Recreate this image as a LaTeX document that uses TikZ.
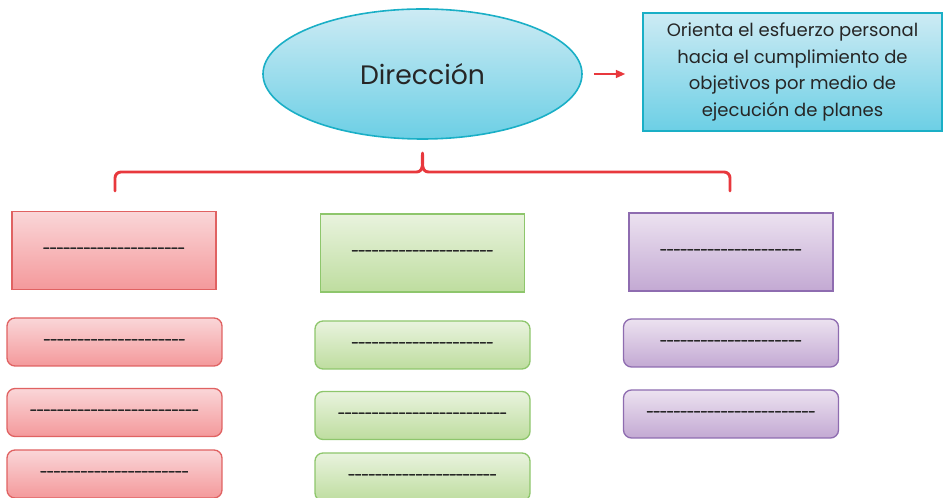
\documentclass[tikz,border=0pt]{standalone}
\usepackage{fontspec}
\setmainfont{Poppins}
\newfontfamily\dashfont[FakeBold=2]{Poppins}
\usetikzlibrary{shapes.geometric,arrows.meta,shadings}
\definecolor{txt}{HTML}{262626}
\definecolor{cyT}{HTML}{CDEBF4}
\definecolor{cyB}{HTML}{6CCFE5}
\definecolor{cyD}{HTML}{1AAFC6}
\definecolor{rdT}{HTML}{FAD6D8}
\definecolor{rdB}{HTML}{F4999B}
\definecolor{rdD}{HTML}{E06262}
\definecolor{gnT}{HTML}{E9F3DE}
\definecolor{gnB}{HTML}{BEDD9F}
\definecolor{gnD}{HTML}{8EC66C}
\definecolor{puT}{HTML}{ECE2F0}
\definecolor{puB}{HTML}{C3A9D3}
\definecolor{puD}{HTML}{8E6CB0}
\definecolor{brc}{HTML}{E8383D}
\newcommand\dashrow[1]{\foreach\i in {1,...,#1}{\makebox[5.06pt]{-}}}
\begin{document}
\begin{tikzpicture}[x=0.75pt,y=-0.75pt,
  base/.style={inner sep=0pt,text=txt,font=\dashfont\fontsize{10.3}{14}\selectfont,line width=1pt},
  head/.style={base,rectangle,minimum width=204*0.75pt,minimum height=78*0.75pt},
  item/.style={base,rectangle,rounded corners=6pt,minimum width=215*0.75pt,minimum height=48*0.75pt},
  red/.style={draw=rdD,top color=rdT,bottom color=rdB},
  green/.style={draw=gnD,top color=gnT,bottom color=gnB},
  purple/.style={draw=puD,top color=puT,bottom color=puB},
  bracestyle/.style={draw=brc,line width=2.2pt,line cap=round,line join=round}]
\useasboundingbox (0,0) rectangle (943,498);
% title ellipse
\node[ellipse,draw=cyD,line width=1.2pt,top color=cyT,bottom color=cyB,
  minimum width=319*0.75pt,minimum height=130*0.75pt,inner sep=0pt,
  text=txt,font=\fontsize{20}{24}\selectfont] (dir) at (422.5,74) {Dirección};
% definition box
\node[rectangle,draw=cyD,line width=1.2pt,top color=cyT,bottom color=cyB,
  minimum width=299*0.75pt,minimum height=118*0.75pt,inner sep=0pt,
  text=txt,align=center,font=\fontsize{13.5}{20}\selectfont] (def) at (792.5,72)
  {Orienta el esfuerzo personal\\hacia el cumplimiento de\\objetivos por medio de\\ejecución de planes};
\draw[draw=brc,line width=1.2pt,-{Triangle[length=7pt,width=6pt]}]
  ([xshift=11*0.75pt]dir.east) -- ([xshift=-17*0.75pt]dir.east -| def.west);
% brace
\coordinate (bL) at (115,191);
\coordinate (bM) at (422.5,153);
\coordinate (bR) at (730,191);
\draw[bracestyle] (bL) -- ++(0,-13) to[out=90,in=180] ++(6,-6) -- (416.5,172)
  to[out=0,in=-90] (bM) to[out=-90,in=180] (428.5,172) -- (724,172)
  to[out=0,in=90] ++(6,6) -- (bR);
% left column
\node[head,red] (l0) at (114,250.5) {\dashrow{21}};
\node[item,red] (l1) at (114.5,342) {\dashrow{21}};
\node[item,red] (l2) at (114.5,412.5) {\dashrow{25}};
\node[item,red] (l3) at (114.5,474) {\dashrow{22}};
% middle column
\node[head,green] (m0) at (422.5,253) {\dashrow{21}};
\node[item,green] (m1) at (422.5,345) {\dashrow{21}};
\node[item,green] (m2) at (422.5,415.5) {\dashrow{25}};
\node[item,green] (m3) at (422.5,477) {\dashrow{22}};
% right column
\node[head,purple] (r0) at (731,252) {\dashrow{21}};
\node[item,purple] (r1) at (731,343) {\dashrow{21}};
\node[item,purple] (r2) at (731,414) {\dashrow{25}};
\end{tikzpicture}
\end{document}
